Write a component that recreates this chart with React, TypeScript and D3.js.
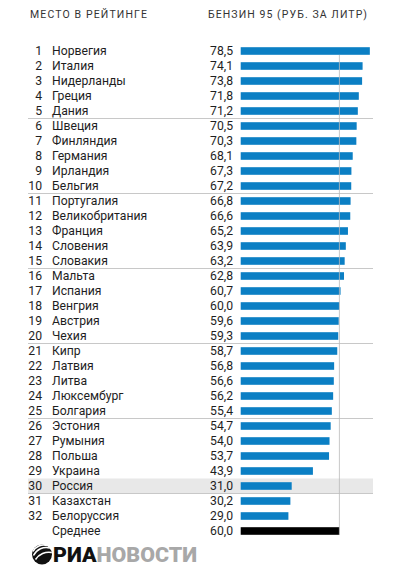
import React from "react";
import * as d3 from "d3";

const ranks = [1,2,3,4,5,6,7,8,9,10,11,12,13,14,15,16,17,18,19,20,21,22,23,24,25,26,27,28,29,30,31,32];
const countries = ["Норвегия","Италия","Нидерланды","Греция","Дания","Швеция","Финляндия","Германия","Ирландия","Бельгия","Португалия","Великобритания","Франция","Словения","Словакия","Мальта","Испания","Венгрия","Австрия","Чехия","Кипр","Латвия","Литва","Люксембург","Болгария","Эстония","Румыния","Польша","Украина","Россия","Казахстан","Белоруссия"];
const prices = [78.5,74.1,73.8,71.8,71.2,70.5,70.3,68.1,67.3,67.2,66.8,66.6,65.2,63.9,63.2,62.8,60.7,60.0,59.6,59.3,58.7,56.8,56.6,56.2,55.4,54.7,54.0,53.7,43.9,31.0,30.2,29.0];
const averageLabel = "Среднее";
const averageValue = 60.0;
const highlightCountry = "Россия";
const headerLeft = "МЕСТО В РЕЙТИНГЕ";
const headerRight = "БЕНЗИН 95 (РУБ. ЗА ЛИТР)";
const logoDark = "РИА";
const logoLight = "НОВОСТИ";

const W = 398, H = 573;
const fmt = (v: number) => v.toFixed(1).replace(".", ",");

export default function App() {
  const n = countries.length;
  const rowIdx = d3.range(n + 1);
  const y = d3.scaleBand<number>().domain(rowIdx).range([43.5, 43.5 + 15 * (n + 1)]).paddingInner(0.5).paddingOuter(0.25);
  const pitch = y.step();
  const x = d3.scaleLinear().domain([0, 80]).range([240.7, 372.3]);
  const cy = (i: number) => (y(i) as number) + y.bandwidth() / 2;
  const barH = 7.6;
  const lineX1 = 28, lineX2 = 373;
  const font = "Roboto, 'Open Sans', sans-serif";
  const textColor = "#1e1e1e";
  const blue = "#0b7fc4";
  const fs = 12.2;

  const seps = d3.range(5, n, 5);
  const hi = countries.indexOf(highlightCountry);

  return (
    <svg width={W} height={H} style={{ position: "absolute", left: 0, top: 0, background: "#fff" }} fontFamily={font}>
      <rect width={W} height={H} fill="#fff" />
      <text x={30} y={17.5} fontSize={10.5} fill="#333" textLength={117} lengthAdjust="spacing">{headerLeft}</text>
      <text x={208} y={17.5} fontSize={10.5} fill="#333" textLength={159} lengthAdjust="spacing">{headerRight}</text>

      <rect x={lineX1} y={cy(hi) - pitch / 2} width={lineX2 - lineX1} height={pitch} fill="#e8e8e8" />
      <line x1={lineX1} x2={lineX2} y1={cy(hi) + pitch / 2} y2={cy(hi) + pitch / 2} stroke="#c4c4c4" strokeWidth={1} />

      {seps.map(k => (
        <line key={k} x1={lineX1} x2={lineX2} y1={cy(k - 1) + pitch / 2} y2={cy(k - 1) + pitch / 2} stroke="#c8c8c8" strokeWidth={1} />
      ))}

      {countries.map((c, i) => (
        <g key={c}>
          <text x={42} y={cy(i) + 4.3} fontSize={fs} fill={textColor} textAnchor="end">{ranks[i]}</text>
          <text x={52} y={cy(i) + 4.3} fontSize={fs} fill={textColor}>{c}</text>
          <text x={233} y={cy(i) + 4.3} fontSize={fs} fill={textColor} textAnchor="end">{fmt(prices[i])}</text>
          <rect x={x(0)} y={cy(i) - barH / 2} width={x(prices[i]) - x(0)} height={barH} fill={blue} />
        </g>
      ))}
      <g>
        <text x={52} y={cy(n) + 4.3} fontSize={fs} fill={textColor}>{averageLabel}</text>
        <text x={233} y={cy(n) + 4.3} fontSize={fs} fill={textColor} textAnchor="end">{fmt(averageValue)}</text>
        <rect x={x(0)} y={cy(n) - barH / 2} width={x(averageValue) - x(0)} height={barH} fill="#000" />
      </g>

      <line x1={x(averageValue)} x2={x(averageValue)} y1={cy(0) + 4} y2={cy(n) + 4} stroke="#bbb" strokeWidth={1} opacity={0.8} />

      <g transform="translate(42,554.5)">
        <circle r={10} fill="#111" />
        <path d="M-9,-3 A12,12 0 0 1 5,-9" stroke="#fff" strokeWidth={1.6} fill="none" />
        <path d="M-8.5,1 A14,14 0 0 1 8,-6.5" stroke="#fff" strokeWidth={1.6} fill="none" />
        <path d="M-6.5,5 A16,16 0 0 1 9.8,-2" stroke="#fff" strokeWidth={1.6} fill="none" />
      </g>
      <text x={53} y={562} fontSize={20} fontWeight={900} fontFamily="Roboto, 'Liberation Sans', sans-serif" textLength={144} lengthAdjust="spacingAndGlyphs">
        <tspan fill="#111">{logoDark}</tspan><tspan fill="#a8a8a8">{logoLight}</tspan>
      </text>
    </svg>
  );
}
